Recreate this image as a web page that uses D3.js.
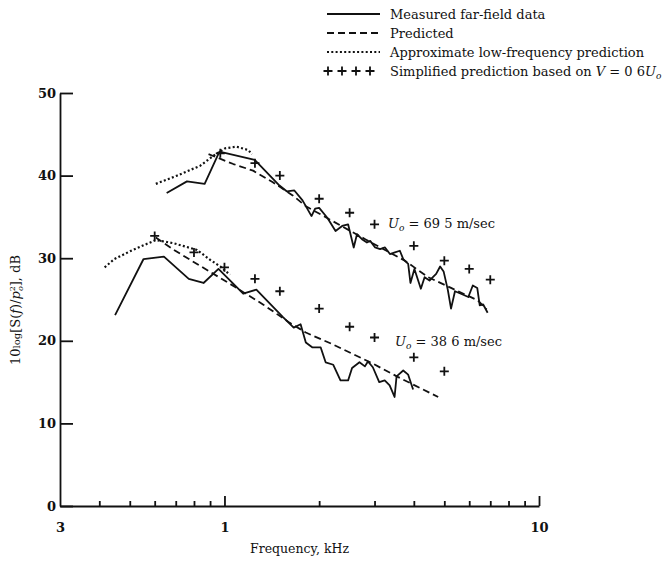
<!DOCTYPE html>
<html>
<head>
<meta charset="utf-8">
<script src="https://cdn.jsdelivr.net/npm/d3@7"></script>
<style>
  body { margin: 0; background: #fff; }
  svg text { font-family: "DejaVu Serif", serif; fill: #111; }
</style>
</head>
<body>
<svg id="chart" width="666" height="562"></svg>
<script>
// U_o = 69.5 m/sec, points are [frequency kHz, dB]
const measuredHigh = [[0.655,37.9],[0.760,39.3],[0.865,39.0],[0.964,42.9],[1.248,41.9],[1.496,38.8],[1.577,38.1],
  [1.668,38.2],[1.771,37.0],[1.891,35.1],[1.942,36.0],[2.000,36.1],[2.123,34.9],[2.255,33.3],[2.367,33.9],
  [2.472,34.1],[2.576,31.3],[2.638,32.9],[2.736,32.3],[2.837,31.9],[2.906,32.1],[3.013,31.3],[3.124,31.1],
  [3.239,31.3],[3.358,30.5],[3.482,30.7],[3.611,30.9],[3.701,29.9],[3.838,29.3],[3.902,27.0],[4.017,28.7],
  [4.211,26.3],[4.328,27.7],[4.487,27.3],[4.599,27.7],[4.710,28.1],[4.849,29.0],[4.974,28.4],[5.128,26.2],
  [5.252,23.9],[5.406,26.0],[5.646,25.7],[5.961,25.3],[6.159,26.7],[6.363,26.4],[6.480,24.3],[6.646,24.4],
  [6.866,23.4]];
const predictedHigh = [[0.890,42.6],[1.067,41.4],[1.233,40.6],[1.425,39.2],[1.648,37.6],[1.814,36.3],[2.802,32.3],
  [3.744,29.7],[4.445,27.7],[5.252,26.4],[6.386,24.9],[6.816,23.8]];
const lowFreqHigh = [[0.605,39.0],[0.707,40.0],[0.838,41.2],[0.923,42.4],[1.004,43.3],[1.092,43.5],[1.189,43.1],[1.224,42.6]];
const simplifiedHigh = [[0.97,42.7],[1.25,41.5],[1.5,40.0],[2,37.2],[2.5,35.5],[3,34.1],[4,31.5],[5,29.7],[6,28.7],[7,27.4]];

// U_o = 38.6 m/sec
const measuredLow = [[0.449,23.1],[0.553,29.9],[0.642,30.2],[0.770,27.5],[0.858,27.0],[0.957,28.7],[1.147,25.7],
  [1.263,26.2],[1.532,22.9],[1.660,21.6],[1.746,22.0],[1.814,19.8],[1.905,19.2],[2.023,19.2],[2.097,17.4],
  [2.218,17.1],[2.338,15.2],[2.472,15.2],[2.545,16.7],[2.687,17.4],[2.796,16.9],[2.858,17.5],[2.963,16.8],
  [3.105,15.0],[3.232,15.2],[3.351,14.6],[3.474,13.2],[3.525,15.7],[3.701,16.4],[3.838,15.9],[3.979,14.1]];
const predictedLow = [[0.605,32.5],[0.691,31.0],[0.818,29.3],[1.041,26.9],[1.326,24.4],[1.609,22.2],[1.814,21.0],
  [2.201,19.6],[2.942,17.3],[3.569,15.6],[4.780,13.2]];
const lowFreqLow = [[0.416,28.9],[0.447,29.9],[0.505,30.9],[0.556,31.6],[0.605,32.2],[0.691,31.8],[0.818,31.0],
  [0.901,29.8],[0.969,29.0],[1.041,28.0]];
const simplifiedLow = [[0.6,32.7],[0.8,30.7],[1.0,28.9],[1.25,27.5],[1.5,26.0],[2,23.9],[2.5,21.7],[3,20.4],[4,18.0],[5,16.3]];

const yTicks = [0, 10, 20, 30, 40, 50];
const xLabelTicks = [0.3, 1, 10];
const xTickLabels = ['3', '1', '10'];
const xMinorTicks = [0.4, 0.5, 0.6, 0.7, 0.8, 0.9, 2, 3, 4, 5, 6, 7, 8, 9];

const svg = d3.select('#chart');
const x = d3.scaleLog().domain([0.3, 10]).range([60, 539]);
const y = d3.scaleLinear().domain([0, 50]).range([506, 93]);

const dashed = '7,4';
const dotted = '2,2.3';

// axes
const yAxis = svg.append('g')
    .attr('transform', `translate(${x(0.3)},0)`)
    .call(d3.axisLeft(y).tickValues(yTicks).tickSizeInner(-13).tickSizeOuter(0).tickPadding(4));
yAxis.selectAll('text').style('font-size', '13px').style('font-weight', 'bold');

const xAxis = svg.append('g')
    .attr('transform', `translate(0,${y(0)})`)
    .call(d3.axisBottom(x).tickValues(xLabelTicks).tickFormat((d, i) => xTickLabels[i])
        .tickSizeInner(-10).tickSizeOuter(0).tickPadding(17));
xAxis.selectAll('text').style('font-size', '13px').style('font-weight', 'bold');
xAxis.selectAll('.tick').filter(d => d === 0.3).select('line').remove();

svg.append('g')
    .attr('transform', `translate(0,${y(0)})`)
    .call(d3.axisBottom(x).tickValues(xMinorTicks).tickFormat('').tickSizeInner(-5).tickSizeOuter(0))
    .select('.domain').remove();

svg.selectAll('.domain, .tick line')
    .attr('stroke', '#111')
    .attr('stroke-width', 1.8);

svg.append('text')
    .attr('x', (x(0.3) + x(10)) / 2)
    .attr('y', 553)
    .attr('text-anchor', 'middle')
    .style('font-size', '12.5px')
    .text('Frequency, kHz');

const yLabel = svg.append('text')
    .attr('transform', 'rotate(-90)')
    .attr('x', -310)
    .attr('y', 20)
    .attr('text-anchor', 'middle')
    .style('font-size', '13px');
yLabel.append('tspan').text('10');
yLabel.append('tspan').style('font-size', '10px').text('log');
yLabel.append('tspan').text('[S(');
yLabel.append('tspan').style('font-style', 'italic').text('f');
yLabel.append('tspan').text(')/');
yLabel.append('tspan').style('font-style', 'italic').text('p');
yLabel.append('tspan').style('font-size', '8px').attr('dy', -5).text('2');
yLabel.append('tspan').style('font-size', '8px').attr('dx', -5).attr('dy', 8).style('font-style', 'italic').text('o');
yLabel.append('tspan').attr('dy', -3).text('],  dB');

// curves
const line = d3.line().x(d => x(d[0])).y(d => y(d[1]));

function drawCurve(data, dash) {
  svg.append('path')
      .datum(data)
      .attr('d', line)
      .attr('fill', 'none')
      .attr('stroke', '#111')
      .attr('stroke-width', dash === dotted ? 2.2 : 1.8)
      .attr('stroke-linejoin', 'round')
      .attr('stroke-dasharray', dash);
}

function drawCrosses(data) {
  svg.append('g').selectAll('path')
      .data(data)
      .enter()
      .append('path')
      .attr('transform', d => `translate(${x(d[0])},${y(d[1])})`)
      .attr('d', 'M-4.5,0H4.5M0,-4.5V4.5')
      .attr('stroke', '#111')
      .attr('stroke-width', 1.8);
}

drawCurve(measuredHigh, null);
drawCurve(predictedHigh, dashed);
drawCurve(lowFreqHigh, dotted);
drawCrosses(simplifiedHigh);

drawCurve(measuredLow, null);
drawCurve(predictedLow, dashed);
drawCurve(lowFreqLow, dotted);
drawCrosses(simplifiedLow);

function velocityLabel(px, py, value) {
  const t = svg.append('text').attr('x', px).attr('y', py).style('font-size', '13px');
  t.append('tspan').style('font-style', 'italic').text('U');
  t.append('tspan').style('font-style', 'italic').style('font-size', '9px').attr('dy', 3).text('o');
  t.append('tspan').attr('dy', -3).text(' = ' + value + ' m/sec');
}
velocityLabel(388, 228, '69 5');
velocityLabel(395, 346, '38 6');

// legend
const legendRows = [
  {dash: null, label: 'Measured far-field data'},
  {dash: dashed, label: 'Predicted'},
  {dash: dotted, label: 'Approximate low-frequency prediction'},
  {dash: 'cross', label: 'Simplified prediction based on '}
];
const legendY = d3.scaleLinear().domain([0, 3]).range([14, 71]);

legendRows.forEach((row, i) => {
  const ly = legendY(i);
  if (row.dash === 'cross') {
    [328, 342, 356, 370].forEach(cx => {
      svg.append('path')
          .attr('transform', `translate(${cx},${ly})`)
          .attr('d', 'M-4.5,0H4.5M0,-4.5V4.5')
          .attr('stroke', '#111')
          .attr('stroke-width', 1.8);
    });
  } else {
    svg.append('line')
        .attr('x1', 327).attr('x2', 380)
        .attr('y1', ly).attr('y2', ly)
        .attr('stroke', '#111')
        .attr('stroke-width', row.dash === dotted ? 2.2 : 1.8)
        .attr('stroke-dasharray', row.dash);
  }
  const t = svg.append('text').attr('x', 390).attr('y', ly + 4.5).style('font-size', '13px');
  t.append('tspan').text(row.label);
  if (row.dash === 'cross') {
    t.append('tspan').style('font-style', 'italic').text('V');
    t.append('tspan').text(' = 0 6');
    t.append('tspan').style('font-style', 'italic').text('U');
    t.append('tspan').style('font-style', 'italic').style('font-size', '9px').attr('dy', 3).text('o');
  }
});
</script>
</body>
</html>
